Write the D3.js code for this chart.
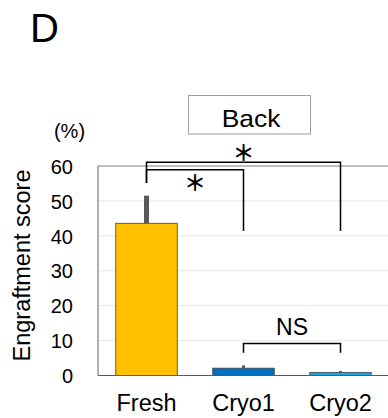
<!DOCTYPE html>
<html>
<head>
<meta charset="utf-8">
<script src="https://cdn.jsdelivr.net/npm/d3@7"></script>
<style>
  body { margin: 0; background: #fff; }
  svg { display: block; font-family: "Liberation Sans", Arial, sans-serif; }
</style>
</head>
<body>
<svg id="chart"></svg>
<script>
  const categories = ["Fresh", "Cryo1", "Cryo2"];
  const means = [43.6, 2.1, 0.9];
  const errors = [7.9, 0.8, 0.4];
  const colors = ["#FFC000", "#0070C0", "#1AA3E8"];
  const yTicks = [0, 10, 20, 30, 40, 50, 60];
  // brackets: from/to category, bar height, drop at each end, label and where it sits
  const brackets = [
    { from: "Fresh", to: "Cryo2", y: 61.1, yFrom: 55.1, yTo: 41.4, label: "＊", labelAt: 64.2 },
    { from: "Fresh", to: "Cryo1", y: 58.9, yFrom: 55.1, yTo: 41.4, label: "＊", labelAt: 55.7 },
    { from: "Cryo1", to: "Cryo2", y: 9.2, yFrom: 6.5, yTo: 6.5, label: "NS", labelAt: 11.5 }
  ];

  const width = 388;
  const height = 418;
  const margin = { top: 166, left: 98, bottom: 42.5, right: -1 };

  const svg = d3.select("#chart")
                .attr("width", width)
                .attr("height", height);

  const x = d3.scaleBand()
              .domain(categories)
              .range([margin.left, width - margin.right])
              .paddingInner(0.366)
              .paddingOuter(0.183);

  const y = d3.scaleLinear()
              .domain([0, 60])
              .range([height - margin.bottom, margin.top]);

  //grid lines
  svg.append("g")
     .selectAll("line")
     .data(yTicks.filter(d => d > 0 && d < 60))
     .enter()
     .append("line")
       .attr("x1", margin.left)
       .attr("x2", width)
       .attr("y1", d => y(d))
       .attr("y2", d => y(d))
       .attr("stroke", "#e6e6e6")
       .attr("stroke-width", 1);

  //plot border (left + top)
  svg.append("path")
     .attr("d", `M${width},${y(60)}H${margin.left}V${y(0)}`)
     .attr("fill", "none")
     .attr("stroke", "#7f7f7f")
     .attr("stroke-width", 1.2);

  //y axis labels
  const yAxis = d3.axisLeft(y)
                  .tickValues(yTicks)
                  .tickSize(0)
                  .tickPadding(25);

  svg.append("g")
       .attr("transform", `translate(${margin.left},0)`)
     .call(yAxis)
     .call(g => g.select(".domain").remove())
     .selectAll("text")
       .attr("dy", "0.36em")
       .style("font-size", "20px")
       .style("font-family", "Liberation Sans, Arial, sans-serif")
       .attr("fill", "#000");

  //bars
  svg.selectAll(".bar")
     .data(categories)
     .enter()
     .append("rect")
       .attr("x", d => x(d))
       .attr("y", (d, i) => y(means[i]))
       .attr("width", x.bandwidth())
       .attr("height", (d, i) => y(0) - y(means[i]))
       .attr("fill", (d, i) => colors[i])
       .attr("stroke", "#404040")
       .attr("stroke-width", 0.8);

  //error bars (upper only)
  svg.selectAll(".err")
     .data(categories)
     .enter()
     .append("line")
       .attr("x1", d => x(d) + x.bandwidth() / 2)
       .attr("x2", d => x(d) + x.bandwidth() / 2)
       .attr("y1", (d, i) => y(means[i]))
       .attr("y2", (d, i) => y(means[i] + errors[i]))
       .attr("stroke", "#595959")
       .attr("stroke-width", (d, i) => i === 0 ? 5 : 3);

  //bottom axis line
  svg.append("line")
     .attr("x1", margin.left)
     .attr("x2", width)
     .attr("y1", y(0))
     .attr("y2", y(0))
     .attr("stroke", "#595959")
     .attr("stroke-width", 1.2);

  //x axis labels
  const xAxis = d3.axisBottom(x).tickSize(0).tickPadding(19);
  svg.append("g")
       .attr("transform", `translate(0,${y(0)})`)
     .call(xAxis)
     .call(g => g.select(".domain").remove())
     .selectAll("text")
       .style("font-size", "23.5px")
       .style("font-family", "Liberation Sans, Arial, sans-serif")
       .attr("fill", "#000");

  //significance brackets
  const cx = d => x(d) + x.bandwidth() / 2;
  brackets.forEach(b => {
    svg.append("path")
       .attr("d", `M${cx(b.from)},${y(b.yFrom)}V${y(b.y)}H${cx(b.to)}V${y(b.yTo)}`)
       .attr("fill", "none")
       .attr("stroke", "#000")
       .attr("stroke-width", 1.5);
    const mid = (cx(b.from) + cx(b.to)) / 2;
    if (b.label === "NS") {
      svg.append("text")
         .attr("x", mid)
         .attr("y", y(b.labelAt))
         .attr("text-anchor", "middle")
         .style("font-size", "23px")
         .text(b.label);
    } else {
      svg.append("text")
         .attr("x", mid)
         .attr("y", y(b.labelAt))
         .attr("text-anchor", "middle")
         .attr("dominant-baseline", "central")
         .style("font-family", "Noto Sans CJK JP")
         .style("font-weight", "bold")
         .style("font-size", "22px")
         .text(b.label);
    }
  });

  //y axis title
  svg.append("text")
     .attr("transform", "translate(29.5,265.5) rotate(-90)")
     .attr("text-anchor", "middle")
     .style("font-size", "23.5px")
     .text("Engraftment score");

  svg.append("text")
     .attr("x", 69.5)
     .attr("y", 138)
     .attr("text-anchor", "middle")
     .style("font-size", "20px")
     .text("(%)");

  //panel letter
  svg.append("text")
     .attr("x", 30)
     .attr("y", 42)
     .style("font-size", "40px")
     .text("D");

  //title box
  svg.append("rect")
     .attr("x", 188.5)
     .attr("y", 95.5)
     .attr("width", 122)
     .attr("height", 38.5)
     .attr("fill", "#fff")
     .attr("stroke", "#a0a0a0")
     .attr("stroke-width", 1);

  svg.append("text")
     .attr("transform", "translate(251,126.5) scale(1.1,1)")
     .attr("text-anchor", "middle")
     .style("font-size", "24px")
     .text("Back");
</script>
</body>
</html>
